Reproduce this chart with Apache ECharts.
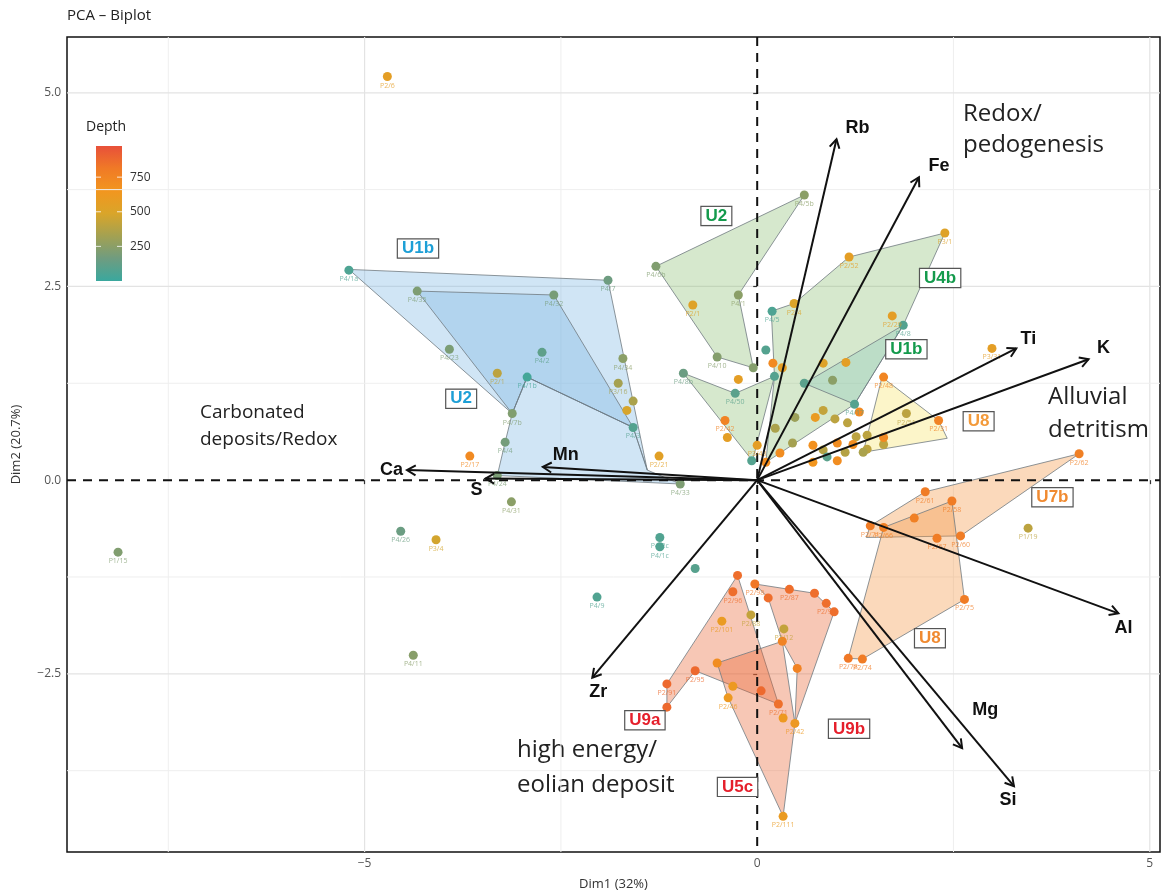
<!DOCTYPE html>
<html><head><meta charset="utf-8">
<script src="https://cdn.jsdelivr.net/npm/echarts@6/dist/echarts.min.js"></script>
<style>html,body{margin:0;padding:0;background:#fff}#c{width:1167px;height:896px}</style>
</head><body><div id="c"></div>
<script>
// ---------- DATA ----------
// points: [Dim1, Dim2, depth, sample]
const pointsOutliers = [
  [-8.14,-0.93,220,'P1/15'],[-4.71,5.21,560,'P2/6'],[-4.54,-0.66,150,'P4/26'],[-4.09,-0.77,470,'P3/4'],
  [-4.38,-2.26,240,'P4/11'],[-3.66,0.31,720,'P2/17'],[-3.13,-0.28,250,'P4/31'],[-1.25,0.31,540,'P2/21'],
  [-1.24,-0.74,70,'P4/2c'],[-1.24,-0.86,70,'P4/1c'],[-2.04,-1.51,70,'P4/9'],[-0.79,-1.14,90,'']
];
const pointsBlue = [
  [-5.20,2.71,60,'P4/1a'],[-1.90,2.58,160,'P4/7'],[-4.33,2.44,210,'P4/35'],[-2.59,2.39,190,'P4/32'],
  [-3.92,1.69,200,'P4/23'],[-3.31,1.38,400,'P2/1'],[-2.74,1.65,110,'P4/2'],[-2.93,1.33,30,'P4/1b'],
  [-3.12,0.86,220,'P4/7b'],[-3.21,0.49,180,'P4/4'],[-3.31,0.06,200,'P4/24'],[-1.71,1.57,250,'P4/34'],
  [-1.77,1.25,330,'P3/16'],[-1.58,1.02,350,''],[-1.66,0.90,480,''],[-1.58,0.68,80,'P4/3'],
  [-0.98,-0.05,210,'P4/33']
];
const pointsGreen = [
  [0.60,3.68,250,'P4/5b'],[-1.29,2.76,220,'P4/6b'],[-0.24,2.39,250,'P4/1'],[-0.82,2.26,520,'P2/1'],
  [-0.51,1.59,230,'P4/10'],[-0.94,1.38,150,'P4/8b'],[-0.28,1.12,100,'P4/50'],[-0.05,1.45,230,''],
  [-0.41,0.77,760,'P2/42'],[-0.38,0.55,560,''],[0.00,0.45,560,'P3/43'],[-0.07,0.25,80,''],
  [-0.24,1.30,560,''],[0.19,2.18,60,'P4/5'],[0.47,2.28,500,'P2/4'],[1.17,2.88,560,'P2/52'],
  [2.39,3.19,520,'P3/1'],[1.72,2.12,560,'P2/29'],[1.86,2.00,80,'P4/8'],[0.11,1.68,80,''],
  [0.20,1.51,720,''],[0.32,1.45,560,''],[0.22,1.34,80,''],[0.60,1.25,100,''],
  [0.96,1.29,250,''],[1.13,1.52,560,''],[0.84,1.51,520,''],[0.74,0.81,600,''],
  [0.84,0.90,420,''],[0.99,0.79,400,''],[1.24,0.98,80,'P4/17'],[1.30,0.88,720,''],
  [1.61,1.33,740,'P2/48'],[1.15,0.74,400,''],[1.26,0.56,400,''],[0.48,0.81,300,''],
  [0.23,0.67,350,''],[0.45,0.48,330,''],[0.29,0.35,700,''],[0.11,0.23,700,''],
  [0.71,0.45,680,''],[0.71,0.23,650,''],[1.02,0.48,700,''],[1.02,0.25,700,''],
  [1.12,0.36,380,''],[0.84,0.39,380,''],[0.89,0.30,100,''],[1.22,0.46,700,''],[1.40,0.58,400,'']
];
const pointsYellow = [
  [1.90,0.86,400,'P2/51'],[1.61,0.46,400,''],[1.61,0.55,720,''],[1.40,0.40,400,''],
  [2.31,0.77,760,'P2/31'],[1.35,0.36,350,''],[2.99,1.70,560,'P3/31']
];
const pointsOrange = [
  [4.10,0.34,780,'P2/62'],[2.14,-0.15,800,'P2/61'],[2.48,-0.27,800,'P2/58'],[1.44,-0.59,800,'P2/71'],
  [2.00,-0.49,780,''],[2.29,-0.75,800,'P2/67'],[2.59,-0.72,800,'P2/60'],[1.61,-0.61,780,'P2/66'],
  [2.64,-1.54,800,'P2/75'],[1.16,-2.30,820,'P2/78'],[1.34,-2.31,800,'P2/74'],[3.45,-0.62,400,'P1/19']
];
const pointsRed = [
  [-0.25,-1.23,860,''],[-0.31,-1.44,860,'P2/96'],[-0.03,-1.34,820,'P2/98'],[0.14,-1.52,860,''],
  [0.41,-1.41,860,'P2/87'],[0.73,-1.46,860,''],[0.88,-1.59,860,'P2/90'],[0.98,-1.70,860,''],
  [-0.08,-1.74,420,'P2/88'],[-0.45,-1.82,600,'P2/101'],[0.34,-1.92,420,'P2/12'],[0.32,-2.08,760,''],
  [-0.51,-2.36,700,''],[-0.79,-2.46,880,'P2/95'],[-1.15,-2.63,880,'P2/91'],[-1.15,-2.93,880,''],
  [-0.31,-2.66,620,''],[-0.37,-2.81,620,'P2/46'],[0.05,-2.72,880,''],[0.51,-2.43,760,''],
  [0.27,-2.89,850,'P2/71'],[0.33,-3.07,620,''],[0.48,-3.14,620,'P2/42'],[0.33,-4.34,600,'P2/111']
];

// hull polygons (Dim1, Dim2 vertices)
const polyBlueOuter = [[-5.20,2.72],[-1.90,2.58],[-1.40,0.13],[-1.58,0.68],[-2.93,1.33],[-3.12,0.86]];
const polyBlueInner = [[-4.33,2.44],[-2.59,2.39],[-1.58,0.68],[-2.93,1.33],[-3.12,0.86]];
const polyBlueU2 = [[-2.93,1.33],[-1.58,0.68],[-1.40,0.13],[-0.98,-0.05],[-3.31,0.06],[-3.21,0.49],[-3.12,0.86]];
const polyGreenU2 = [[-1.29,2.76],[0.60,3.68],[-0.24,2.39],[-0.05,1.45],[-0.51,1.59]];
const polyGreenLow = [[-0.94,1.38],[-0.28,1.12],[0.22,1.34],[-0.06,0.25]];
const polyGreenU4b = [[0.47,2.28],[1.17,2.88],[2.39,3.19],[1.86,2.00],[1.24,0.98],[0.11,0.23],[0.22,1.34],[0.18,2.18]];
const polyGreenU1b = [[1.86,2.00],[0.60,1.25],[1.24,0.98]];
const polyYellowU8 = [[1.59,1.33],[2.31,0.77],[2.42,0.54],[1.35,0.36]];
const polyOrangeU7b = [[1.44,-0.59],[2.14,-0.15],[4.10,0.34],[2.59,-0.72],[1.39,-0.74]];
const polyOrangeU8 = [[1.61,-0.61],[2.48,-0.27],[2.64,-1.54],[1.34,-2.31],[1.16,-2.30]];
const polyRedU9a = [[-0.25,-1.23],[-1.15,-2.63],[-1.15,-2.93],[-0.79,-2.46],[0.27,-2.89]];
const polyRedU9b = [[-0.03,-1.34],[0.41,-1.41],[0.73,-1.46],[0.98,-1.70],[0.48,-3.14],[0.51,-2.43],[0.32,-2.08],[0.14,-1.52]];
const polyRedU5c = [[-0.51,-2.36],[0.32,-2.08],[0.48,-3.14],[0.33,-4.34],[-0.37,-2.81]];

// variable loadings (arrows)
const arrowVars = ['Ca','S','Mn','Rb','Fe','Ti','K','Al','Mg','Si','Zr'];
const arrowX = [-4.46,-3.46,-2.73,1.01,2.06,3.30,4.22,4.60,2.61,3.27,-2.10];
const arrowY = [0.13,0.02,0.17,4.40,3.91,1.70,1.56,-1.72,-3.46,-3.95,-2.55];

// unit tags
const unitNames = ['U1b','U2','U2','U4b','U1b','U8','U7b','U8','U9a','U9b','U5c'];

// axis ticks
const xTicks = [-5,0,5];
const yTicks = [-2.5,0,2.5,5];
const gridXLines = [-7.5,-5,-2.5,2.5,5];
const gridYLines = [-3.75,-2.5,-1.25,1.25,2.5,3.75,5];
const depthTicks = [250,500,750];

// ---------- LAYOUT / STYLE ----------
const depthMin = 0, depthMax = 975;
const depthColors = ['#3aa89e','#6f9c80','#a3a152','#d9a52a','#f2961f','#f07a26','#e8503a'];
const unitPos = [[-4.32,2.99],[-3.77,1.05],[-0.52,3.41],[2.33,2.61],[1.90,1.69],[2.82,0.76],[3.76,-0.22],[2.20,-2.04],[-1.43,-3.10],[1.17,-3.21],[-0.25,-3.96]];
const unitColors = ['#1d9fd6','#1d9fd6','#149a4c','#149a4c','#149a4c','#f39a3a','#f08a30','#f08a30','#e51f2b','#e51f2b','#e51f2b'];
const arrowLabelOff = {Ca:[-4,0,'right'],S:[-9,11,'center'],Mn:[23,-12,'center'],Rb:[21,-11,'center'],Fe:[20,-11,'center'],
  Ti:[12,-9,'center'],K:[15,-11,'center'],Al:[5,15,'center'],Mg:[23,-38,'center'],Si:[-6,14,'center'],Zr:[6,14,'center']};
const BLUE='rgba(126,184,226,0.36)', GREEN='rgba(135,189,109,0.34)', YEL='rgba(245,225,100,0.35)', ORA='rgba(244,155,75,0.38)', RED='rgba(232,100,50,0.36)';
const polys = [
  [polyBlueOuter,BLUE],[polyBlueInner,BLUE],[polyBlueU2,BLUE],
  [polyGreenU2,GREEN],[polyGreenLow,GREEN],[polyGreenU4b,GREEN],[polyGreenU1b,'rgba(140,200,190,0.35)'],
  [polyYellowU8,YEL],[polyOrangeU7b,ORA],[polyOrangeU8,ORA],
  [polyRedU9a,RED],[polyRedU9b,RED],[polyRedU5c,RED]
];

const allPoints = [].concat(pointsOutliers,pointsBlue,pointsGreen,pointsYellow,pointsOrange,pointsRed);
const minus = s => String(s).replace('-', '\u2212');

const chart = echarts.init(document.getElementById('c'));
const option = {
  animation:false,
  backgroundColor:'#fff',
  grid:{left:67,right:7,top:37,bottom:44,show:true,borderColor:'#111',borderWidth:1.5,backgroundColor:'transparent'},
  xAxis:{type:'value',min:-8.79,max:5.13,
    axisLine:{show:false},splitLine:{show:false},
    axisTick:{show:true,customValues:xTicks,length:4,lineStyle:{color:'#333',width:1.2}},
    axisLabel:{customValues:xTicks,color:'#555',fontSize:12,fontFamily:'Open Sans',margin:6,formatter:v=>minus(v)},
    name:'Dim1 (32%)',nameLocation:'middle',nameGap:26,nameTextStyle:{color:'#333',fontSize:13,fontFamily:'Open Sans'}},
  yAxis:{type:'value',min:-4.80,max:5.72,
    axisLine:{show:false},splitLine:{show:false},
    axisTick:{show:true,customValues:yTicks,length:4,lineStyle:{color:'#333',width:1.2}},
    axisLabel:{customValues:yTicks,color:'#555',fontSize:12,fontFamily:'Open Sans',margin:6,formatter:v=>minus(v.toFixed(1))},
    name:'Dim2 (20.7%)',nameLocation:'middle',nameGap:44,nameTextStyle:{color:'#333',fontSize:13,fontFamily:'Open Sans'}},
  visualMap:{type:'continuous',show:false,min:depthMin,max:depthMax,dimension:2,seriesIndex:3,inRange:{color:depthColors}},
  series:[
    // grid lines
    {type:'custom',silent:true,z:0,
     data:gridXLines.map(v=>[v,0,0]).concat(gridYLines.map(v=>[0,v,1])),
     renderItem:(params,api)=>{
       const cs=params.coordSys; const isH=api.value(2)===1;
       const p=api.coord([api.value(0),api.value(1)]);
       const major = isH ? yTicks.indexOf(api.value(1))>=0 : xTicks.indexOf(api.value(0))>=0;
       const shape = isH ? {x1:cs.x,y1:p[1],x2:cs.x+cs.width,y2:p[1]} : {x1:p[0],y1:cs.y,x2:p[0],y2:cs.y+cs.height};
       return {type:'line',shape,style:{stroke:major?'#e3e3e3':'#efefef',lineWidth:major?1.2:1}};
     }},
    // polygons
    {type:'custom',silent:true,z:1,
     data:polys.map((p,i)=>[p[0][0][0],p[0][0][1],i]),
     renderItem:(params,api)=>{
       const pp=polys[api.value(2)];
       return {type:'polygon',shape:{points:pp[0].map(v=>api.coord(v))},style:{fill:pp[1],stroke:'#707a80',lineWidth:0.8}};
     }},
    // zero lines
    {type:'custom',silent:true,z:2,
     data:[[0,0,0],[0,0,1]],
     renderItem:(params,api)=>{
       const cs=params.coordSys; const p=api.coord([0,0]);
       const shape = api.value(2)===1 ? {x1:cs.x,y1:p[1],x2:cs.x+cs.width,y2:p[1]} : {x1:p[0],y1:cs.y,x2:p[0],y2:cs.y+cs.height};
       return {type:'line',shape,style:{stroke:'#111',lineWidth:2,lineDash:[9,7]}};
     }},
    // points
    {type:'scatter',z:3,symbolSize:9,
     data:allPoints.map(p=>({value:[p[0],p[1],p[2]],name:p[3]})),
     itemStyle:{opacity:1},
     label:{show:true,formatter:'{b}',position:'bottom',distance:1,fontSize:7,color:'inherit',opacity:0.75,fontFamily:'Open Sans'}},
    // arrows
    {type:'custom',silent:true,z:4,
     data:arrowVars.map((n,i)=>[arrowX[i],arrowY[i],i]),
     renderItem:(params,api)=>{
       const o=api.coord([0,0]); const t=api.coord([api.value(0),api.value(1)]);
       const name=arrowVars[api.value(2)];
       const ang=Math.atan2(t[1]-o[1],t[0]-o[0]); const L=10, a=Math.PI/6;
       const h1=[t[0]-L*Math.cos(ang-a),t[1]-L*Math.sin(ang-a)];
       const h2=[t[0]-L*Math.cos(ang+a),t[1]-L*Math.sin(ang+a)];
       const off=arrowLabelOff[name];
       return {type:'group',children:[
         {type:'line',shape:{x1:o[0],y1:o[1],x2:t[0],y2:t[1]},style:{stroke:'#111',lineWidth:2}},
         {type:'polyline',shape:{points:[h1,t,h2]},style:{stroke:'#111',lineWidth:2,fill:null}},
         {type:'text',style:{text:name,x:t[0]+off[0],y:t[1]+off[1],align:off[2],verticalAlign:'middle',fill:'#111',font:'bold 18px "Liberation Sans"'}}
       ]};
     }},
    // unit tags
    {type:'custom',silent:true,z:5,
     data:unitNames.map((n,i)=>[unitPos[i][0],unitPos[i][1],i]),
     renderItem:(params,api)=>{
       const i=api.value(2); const p=api.coord([api.value(0),api.value(1)]);
       return {type:'text',style:{text:unitNames[i],x:p[0],y:p[1],align:'center',verticalAlign:'middle',fill:unitColors[i],
         font:'bold 17px "Liberation Sans"',backgroundColor:'#fff',borderColor:'#555',borderWidth:1.2,padding:[1,4,0,4]}};
     }}
  ],
  graphic:[
    {type:'text',left:67,top:8,style:{text:'PCA \u2013 Biplot',font:'15px "Open Sans"',fill:'#222'}},
    {type:'text',left:963,top:99,style:{text:'Redox/\npedogenesis',font:'24px "Open Sans"',fill:'#222',lineHeight:31}},
    {type:'text',left:1048,top:381,style:{text:'Alluvial\ndetritism',font:'24px "Open Sans"',fill:'#222',lineHeight:33}},
    {type:'text',left:200,top:399,style:{text:'Carbonated\ndeposits/Redox',font:'19px "Open Sans"',fill:'#222',lineHeight:27}},
    {type:'text',left:517,top:733,style:{text:'high energy/\neolian deposit',font:'24px "Open Sans"',fill:'#222',lineHeight:35}},
    {type:'text',left:86,top:120,style:{text:'Depth',font:'14px "Open Sans"',fill:'#222'}},
    {type:'rect',shape:{x:96,y:146,width:26,height:135},style:{fill:new echarts.graphic.LinearGradient(0,1,0,0,
      depthColors.map((c,i)=>({offset:i/(depthColors.length-1),color:c})))}},
  ].concat(depthTicks.map(d=>{
      const y=146+135*(1-(d-depthMin)/(depthMax-depthMin));
      return {type:'group',children:[
        {type:'line',shape:{x1:96,y1:y,x2:101,y2:y},style:{stroke:'rgba(255,255,255,0.8)',lineWidth:1}},
        {type:'line',shape:{x1:117,y1:y,x2:122,y2:y},style:{stroke:'rgba(255,255,255,0.8)',lineWidth:1}},
        {type:'text',x:130,y:y,style:{text:String(d),font:'12px "Open Sans"',fill:'#333',verticalAlign:'middle'}}
      ]};
  }))
};
chart.setOption(option);
</script></body></html>
